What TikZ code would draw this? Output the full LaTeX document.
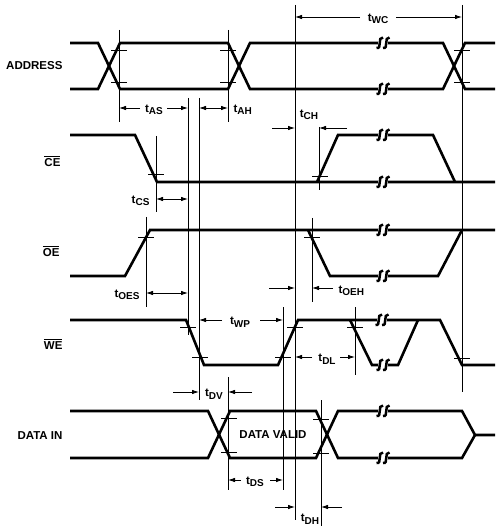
\documentclass[tikz,border=0pt]{standalone}
\usepackage{fontspec}
\setmainfont{Liberation Sans}
\usepackage{xcolor}
\usetikzlibrary{arrows.meta}
\newcommand{\tsub}[1]{t\raisebox{-2.5pt}{\fontsize{10}{10}\selectfont #1}}
\newcommand{\ovl}[1]{\vbox{\hrule height 0.8pt\kern 1.6pt\hbox{#1}}}

\tikzset{
	sig/.style={line width=2.6pt},
	ref/.style={line width=0.8pt},
	dim/.style={line width=0.8pt,-{Latex[length=7pt,width=4.5pt]}},
	brk/.pic={
		\fill[white] (-5,-2) rectangle (5,2);
		\draw[line width=2.5pt] (-6.5,5) .. controls (-0.5,6.5) and (-6,-6.5) .. (0,-5.5);
		\draw[line width=2.5pt] (0,5) .. controls (6,6.5) and (0.5,-6.5) .. (6.5,-5.5);
	}
}

\begin{document}
\begin{tikzpicture}[x=1pt,y=-1pt,font=\fontsize{11.5}{14}\selectfont\bfseries]
	\useasboundingbox (0,0) rectangle (495,526);

	% reference lines
	\draw[ref] (119,30)--(119,122);
	\draw[ref] (228,30)--(228,122);
	\draw[ref] (462,5)--(462,392);
	\draw[ref] (295,5)--(295,520);
	\draw[ref] (188,98)--(188,335);
	\draw[ref] (199,98)--(199,400);
	\draw[ref] (156,136)--(156,212);
	\draw[ref] (319,127)--(319,190);
	\draw[ref] (146,217)--(146,307);
	\draw[ref] (312,218)--(312,302);
	\draw[ref] (283,307)--(283,490);
	\draw[ref] (355,307)--(355,375);
	\draw[ref] (228,377)--(228,490);
	\draw[ref] (321,400)--(321,526);
	\foreach \x/\y in {119/50,119/82,228/50,228/82,462/50,462/82,156/174,320/176,146/237,312/237,
		188/327,200/357,283/357,295/327,355/327,462/358,229/418,229/452,321/419,321/453}
		\draw[ref] (\x-8,\y)--(\x+8,\y);

	% signals
	\draw[sig] (70,43)--(98,43)--(120,89)--(228,89)--(250,43)--(443,43)--(465,89)--(495,89);
	\draw[sig] (70,89)--(98,89)--(120,43)--(228,43)--(250,89)--(443,89)--(465,43)--(495,43);
	\draw[sig] (70,135)--(135,135)--(157,182)--(495,182);
	\draw[sig] (317,182)--(338,135)--(433,135)--(455,182);
	\draw[sig] (70,276)--(125,276)--(150,230)--(495,230);
	\draw[sig] (308,230)--(330,276)--(438,276)--(462,230);
	\draw[sig] (70,320)--(186,320)--(204,365)--(278,365)--(298,320)--(440,320)--(462,365)--(495,365);
	\draw[sig] (350,320)--(372,365)--(398,365)--(418,320);
	\draw[sig] (70,411)--(208,411)--(230,458)--(316,458)--(338,411)--(462,411)--(475,435)--(495,435);
	\draw[sig] (70,458)--(208,458)--(230,411)--(316,411)--(338,458)--(462,458)--(475,435);
	\foreach \y in {43,89,135,182,230,276,411,458}
		\pic at (383,\y) {brk};
	\pic at (382,320) {brk};
	\pic at (383,365) {brk};

	% signal names
	\node[anchor=east] (addr) at (66,66) {ADDRESS};
	\node[anchor=east] (ce) at (64,161) {\ovl{CE}};
	\node[anchor=east] (oe) at (63,251) {\ovl{OE}};
	\node[anchor=east] (we) at (66,344) {\ovl{WE}};
	\node[anchor=east] (din) at (66,436) {DATA IN};
	\node (valid) at (273,435) {DATA VALID};

	% timing
	\draw[dim] (360,17)--(295,17); \draw[dim] (396,17)--(462,17);
	\node (twc) at (378,19) {\tsub{WC}};
	\draw[dim] (140,108)--(119,108); \draw[dim] (167,108)--(188,108);
	\node (tas) at (154,110) {\tsub{AS}};
	\draw[dim] (213,108)--(199,108); \draw[dim] (213,108)--(228,108);
	\node[anchor=west] (tah) at (230,110) {\tsub{AH}};
	\draw[dim] (272,128)--(295,128); \draw[dim] (347,128)--(319,128);
	\node (tch) at (309,115) {\tsub{CH}};
	\draw[dim] (172,199)--(156,199); \draw[dim] (172,199)--(188,199);
	\node[anchor=east] (tcs) at (153,201) {\tsub{CS}};
	\draw[dim] (167,293)--(146,293); \draw[dim] (167,293)--(188,293);
	\node[anchor=east] (toes) at (143,295) {\tsub{OES}};
	\draw[dim] (269,288)--(295,288); \draw[dim] (333,288)--(312,288);
	\node[anchor=west] (toeh) at (335,291) {\tsub{OEH}};
	\draw[dim] (222,320)--(199,320); \draw[dim] (260,320)--(283,320);
	\node (twp) at (240,322) {\tsub{WP}};
	\draw[dim] (312,357)--(295,357); \draw[dim] (340,357)--(355,357);
	\node (tdl) at (327,359) {\tsub{DL}};
	\draw[dim] (173,392)--(199,392); \draw[dim] (252,392)--(228,392);
	\node (tdv) at (214,394) {\tsub{DV}};
	\draw[dim] (241,480)--(228,480); \draw[dim] (270,480)--(283,480);
	\node (tds) at (255,482) {\tsub{DS}};
	\draw[dim] (275,507)--(295,507); \draw[dim] (342,507)--(321,507);
	\node (tdh) at (310,519) {\tsub{DH}};
\end{tikzpicture}
\end{document}
